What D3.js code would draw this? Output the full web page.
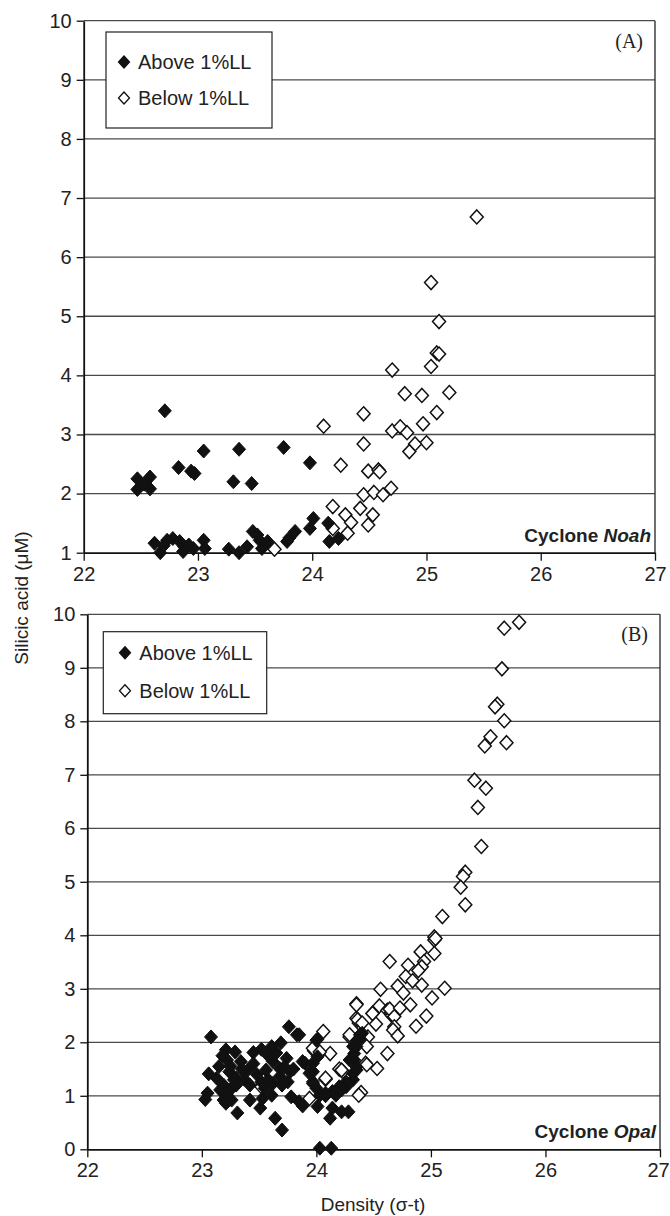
<!DOCTYPE html>
<html><head><meta charset="utf-8">
<script src="https://cdnjs.cloudflare.com/ajax/libs/d3/7.8.5/d3.min.js"></script>
<style>body{margin:0;background:#fff}svg{display:block}</style>
</head><body>
<script>
// ---- DATA ----
const xTicks = [22, 23, 24, 25, 26, 27];
const yTicksA = [1, 2, 3, 4, 5, 6, 7, 8, 9, 10];
const yTicksB = [0, 1, 2, 3, 4, 5, 6, 7, 8, 9, 10];
const seriesNames = ["Above 1%LL", "Below 1%LL"];

const noahAbove = [
 [22.47,2.25],[22.58,2.28],[22.47,2.07],[22.58,2.08],[22.53,2.16],
 [22.71,3.40],[22.83,2.44],[22.94,2.38],[22.97,2.34],[23.05,2.72],[23.36,2.75],[23.31,2.20],[23.47,2.17],[23.75,2.78],[23.98,2.52],
 [22.62,1.16],[22.67,1.00],[22.70,1.12],[22.73,1.21],[22.78,1.24],[22.84,1.19],[22.87,1.02],[22.88,1.10],[22.92,1.13],[22.96,1.07],
 [23.05,1.21],[23.06,1.07],[23.27,1.06],[23.36,1.00],[23.43,1.10],[23.48,1.36],[23.52,1.30],[23.54,1.21],[23.56,1.07],[23.61,1.19],
 [23.78,1.19],[23.80,1.25],[23.85,1.36],[23.98,1.41],[24.01,1.58],[24.14,1.50],[24.15,1.19],[24.23,1.24]
];
const noahBelow = [
 [25.44,6.68],[25.04,5.57],[25.11,4.91],[25.09,4.38],[25.11,4.36],[25.04,4.15],[24.70,4.09],[24.81,3.69],[24.96,3.66],[25.20,3.71],
 [25.09,3.37],[24.45,3.35],[24.10,3.14],[24.70,3.06],[24.77,3.13],[24.83,3.03],[24.97,3.18],[25.00,2.86],[24.90,2.84],[24.85,2.71],
 [24.45,2.84],[24.25,2.48],[24.49,2.38],[24.58,2.40],[24.59,2.37],[24.45,1.98],[24.54,2.02],[24.62,1.98],[24.69,2.09],[24.18,1.78],
 [24.42,1.75],[24.29,1.64],[24.34,1.51],[24.53,1.64],[24.49,1.47],[24.18,1.41],[24.31,1.33],[23.67,1.06]
];
const opalAbove = [
 [23.08,2.10],[23.03,0.93],[23.06,1.41],[23.19,0.92],[23.21,0.86],[23.21,1.86],[23.26,0.92],[23.31,0.68],[23.29,1.82],
 [23.76,2.29],[23.83,2.14],[23.69,1.99],[24.01,2.06],
 [23.45,1.81],[23.52,1.87],[23.61,1.92],[23.74,1.70],[23.88,1.64],
 [23.22,1.67],[23.34,1.64],[23.40,1.48],[23.13,1.33],[23.24,1.45],[23.30,1.33],[23.37,1.31],[23.56,1.48],[23.62,1.64],[23.68,1.51],
 [23.72,1.54],[23.77,1.45],[23.68,1.36],[23.75,1.26],[23.52,1.26],[23.55,1.14],[23.62,1.23],[23.97,1.45],[23.97,1.26],[24.00,1.14],[24.03,1.01],
 [23.19,1.20],[23.16,1.11],[23.26,1.14],[23.30,1.20],[23.22,0.98],[23.42,0.92],[23.51,0.77],[23.53,0.95],[23.61,1.01],[23.78,0.98],
 [23.85,0.89],[23.88,0.81],[24.01,0.80],[24.08,1.00],[24.17,1.01],[24.14,0.77],[24.12,0.58],[24.22,0.70],[24.28,0.70],[23.64,0.58],
 [23.70,0.36],[24.03,0.02],[24.13,0.02],
 [24.35,1.92],[24.33,1.67],[24.35,1.48],[24.32,1.30],[24.26,1.17],[24.22,1.11],[24.38,2.07],[24.40,2.17],
 [24.38,2.14],[24.36,2.04],[24.32,1.92],[24.33,1.79],[24.29,1.67],[24.35,1.54],[24.32,1.42],[24.26,1.26],[24.20,1.17],[24.14,1.08],
 [24.08,1.05],[23.97,1.23],[23.94,1.42],[23.90,1.61],[23.85,2.14],[24.00,2.04],[24.01,1.73],[23.97,1.61],
 [23.15,1.55],[23.25,1.55],[23.35,1.50],[23.45,1.60],[23.18,1.75],[23.28,1.30],[23.58,1.75],[23.65,1.80],[23.42,1.20],[23.48,1.40],
 [23.58,1.30],[23.80,1.50],[23.70,1.20],[23.05,1.05]
];
const opalBelow = [
 [25.77,9.85],[25.64,9.74],[25.62,8.98],[25.58,8.32],[25.56,8.27],[25.64,8.01],[25.52,7.71],[25.47,7.54],[25.66,7.60],[25.38,6.90],
 [25.48,6.75],[25.41,6.39],[25.44,5.66],[25.30,5.18],[25.28,5.10],[25.26,4.90],[25.30,4.57],[25.10,4.35],
 [25.03,3.97],[25.03,3.91],[25.04,3.94],[24.91,3.69],[25.03,3.66],[24.94,3.51],[24.92,3.41],[24.89,3.34],[24.64,3.51],[24.80,3.44],
 [24.78,3.23],[24.84,3.15],[24.71,3.05],[24.92,3.07],[25.12,3.01],[24.56,2.99],[24.76,2.92],[25.01,2.83],[24.35,2.72],[24.82,2.70],[24.55,2.68],
 [24.62,2.60],[24.65,2.55],[24.66,2.50],[24.64,2.62],[24.68,2.48],[24.49,2.54],[24.73,2.64],[24.96,2.49],[24.87,2.30],[24.35,2.45],
 [24.37,2.36],[24.52,2.34],[24.68,2.29],[24.67,2.23],[24.71,2.12],[24.29,2.10],[24.45,2.10],[24.44,1.92],[24.06,2.20],[24.12,1.79],
 [23.98,1.84],[24.02,1.78],[24.62,1.79],[24.43,1.61],[24.20,1.50],[24.23,1.45],[24.53,1.51],[24.08,1.31],[24.39,1.06],
 [23.97,1.89],[24.03,1.82],[24.08,1.33],[23.94,0.95],[24.22,1.48],[23.52,1.17],[24.37,1.01],[24.29,2.14],[24.36,2.42],
 [24.40,2.36],[24.49,2.54],[24.35,2.70],[24.44,1.58]
];

// ---- DRAW ----
const W = 670, H = 1216;
const svg = d3.select("body").append("svg").attr("width", W).attr("height", H);
const FONT = "Liberation Sans, Arial, sans-serif";
const diamond = "M0,-7L6.5,0L0,7L-6.5,0Z";

function panel(cfg) {
  const x = d3.scaleLinear().domain([22, 27]).range([cfg.left, cfg.right]);
  const y = d3.scaleLinear().domain([cfg.ymin, 10]).range([cfg.bottom, cfg.top]);
  const g = svg.append("g");
  // gridlines
  g.selectAll("line.grid").data(cfg.yTicks.filter(v => v > cfg.ymin)).join("line")
    .attr("x1", cfg.left).attr("x2", cfg.right)
    .attr("y1", d => y(d)).attr("y2", d => y(d))
    .attr("stroke", "#4a4a4a").attr("stroke-width", 1.3);
  // right border
  g.append("line").attr("x1", cfg.right).attr("x2", cfg.right).attr("y1", cfg.top).attr("y2", cfg.bottom)
    .attr("stroke", "#222").attr("stroke-width", 1.3);
  // axes
  const xa = g.append("g").attr("transform", `translate(0,${cfg.bottom})`)
    .call(d3.axisBottom(x).tickValues(xTicks).tickSize(8).tickSizeOuter(0).tickPadding(6).tickFormat(d3.format("d")));
  const ya = g.append("g").attr("transform", `translate(${cfg.left},0)`)
    .call(d3.axisLeft(y).tickValues(cfg.yTicks).tickSize(7).tickSizeOuter(0).tickPadding(5).tickFormat(d3.format("d")));
  [xa, ya].forEach(a => {
    a.select(".domain").attr("stroke", "#111").attr("stroke-width", 1.8);
    a.selectAll(".tick line").attr("stroke", "#111").attr("stroke-width", 1.3);
    a.selectAll("text").attr("font-family", FONT).attr("font-size", 20).attr("fill", "#222");
  });
  // keep last x label inside the page
  xa.selectAll(".tick text").filter(d => d === 27).attr("dx", Math.min(0, W - 12 - cfg.right));
  // markers
  g.append("g").selectAll("path").data(cfg.below).join("path")
    .attr("d", diamond).attr("transform", d => `translate(${x(d[0])},${y(d[1])})`)
    .attr("fill", "#fff").attr("stroke", "#111").attr("stroke-width", 1.5);
  g.append("g").selectAll("path").data(cfg.above).join("path")
    .attr("d", diamond).attr("transform", d => `translate(${x(d[0])},${y(d[1])})`)
    .attr("fill", "#111").attr("stroke", "#111").attr("stroke-width", 1);
  // legend
  const L = cfg.legend;
  g.append("rect").attr("x", L.x).attr("y", L.y).attr("width", L.w).attr("height", L.h)
    .attr("fill", "#fff").attr("stroke", "#222").attr("stroke-width", 1.2);
  seriesNames.forEach((name, i) => {
    const cy = L.y + L.r0 + i * L.dy;
    g.append("path").attr("d", "M0,-6L5.5,0L0,6L-5.5,0Z").attr("transform", `translate(${L.x + L.mx},${cy})`)
      .attr("fill", i === 0 ? "#111" : "#fff").attr("stroke", "#111").attr("stroke-width", 1.3);
    g.append("text").attr("x", L.x + L.tx).attr("y", cy + 7).text(name)
      .attr("font-family", FONT).attr("font-size", 20).attr("fill", "#222");
  });
  // panel letter
  g.append("text").attr("x", cfg.right - 12).attr("y", cfg.top + 27).attr("text-anchor", "end")
    .attr("font-family", "Liberation Serif, Times New Roman, serif").attr("font-size", 20).attr("fill", "#222")
    .text(cfg.letter);
  // cyclone name
  const t = g.append("text").attr("x", cfg.right - 4).attr("y", cfg.bottom - 11).attr("text-anchor", "end")
    .attr("font-family", FONT).attr("font-size", 19).attr("font-weight", "bold").attr("fill", "#222");
  t.append("tspan").text("Cyclone ");
  t.append("tspan").attr("font-style", "italic").text(cfg.name);
}

panel({left: 83.7, right: 655, top: 20.7, bottom: 552.7, ymin: 1, yTicks: yTicksA,
  above: noahAbove, below: noahBelow, letter: "(A)", name: "Noah",
  legend: {x: 106, y: 32, w: 166, h: 96, r0: 30, dy: 36, mx: 18, tx: 32}});
panel({left: 87.3, right: 660, top: 614.3, bottom: 1149.3, ymin: 0, yTicks: yTicksB,
  above: opalAbove, below: opalBelow, letter: "(B)", name: "Opal",
  legend: {x: 103.3, y: 631.7, w: 163.4, h: 82, r0: 21, dy: 38, mx: 21.7, tx: 36}});

// axis titles
svg.append("text").attr("transform", "translate(28,598) rotate(-90)").attr("text-anchor", "middle")
  .attr("font-family", FONT).attr("font-size", 19).attr("fill", "#222").text("Silicic acid (\u03BCM)");
svg.append("text").attr("x", 373).attr("y", 1211).attr("text-anchor", "middle")
  .attr("font-family", FONT).attr("font-size", 19).attr("fill", "#222").text("Density (\u03C3-t)");
</script>
</body></html>
